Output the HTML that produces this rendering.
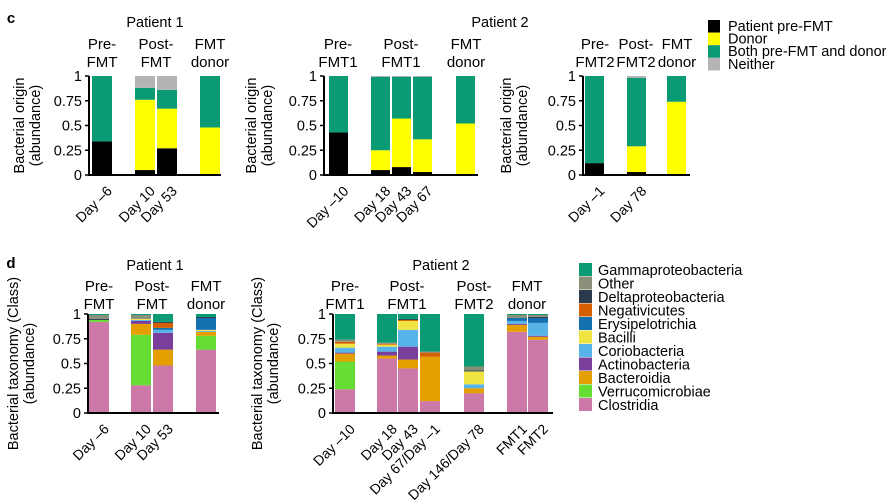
<!DOCTYPE html>
<html><head><meta charset="utf-8"><style>
body{margin:0;background:#fff;}
svg{display:block;font-family:"Liberation Sans",Arial,sans-serif;}
</style></head><body>
<svg id="fig" width="886" height="502" viewBox="0 0 886 502"></svg>
<script>
// ---- Panel c data (bottom to top: patient, donor, both, neither) ----
const cCats1 = ["Day \u20136","Day 10","Day 53",""];
const cPatient1 = [0.34,0.05,0.27,0.00];
const cDonor1 = [0.00,0.71,0.40,0.48];
const cBoth1 = [0.66,0.12,0.19,0.52];
const cNeither1 = [0.00,0.12,0.14,0.00];
const cCats2 = ["Day \u201310","Day 18","Day 43","Day 67",""];
const cPatient2 = [0.43,0.05,0.08,0.03,0.00];
const cDonor2 = [0.00,0.20,0.49,0.33,0.52];
const cBoth2 = [0.57,0.74,0.42,0.63,0.48];
const cNeither2 = [0.00,0.01,0.01,0.01,0.00];
const cCats3 = ["Day \u20131","Day 78",""];
const cPatient3 = [0.12,0.03,0.00];
const cDonor3 = [0.00,0.26,0.74];
const cBoth3 = [0.88,0.69,0.26];
const cNeither3 = [0.00,0.02,0.00];
const yTicks = [0,0.25,0.5,0.75,1];
const yTickLabels = ["0","0.25","0.5","0.75","1"];

// ---- Panel d data (bottom to top) ----
const dClasses = ["Clostridia","Verrucomicrobiae","Bacteroidia","Actinobacteria","Coriobacteria","Bacilli","Erysipelotrichia","Negativicutes","Deltaproteobacteria","Other","Gammaproteobacteria"];
const dCats1 = ["Day \u20136","Day 10","Day 53",""];
const dClost1 = [0.92,0.28,0.48,0.64];
const dVerr1 = [0.02,0.51,0.00,0.14];
const dBact1 = [0.00,0.11,0.16,0.04];
const dActi1 = [0.00,0.03,0.17,0.00];
const dCorio1 = [0.00,0.01,0.03,0.01];
const dBaci1 = [0.00,0.01,0.00,0.01];
const dErys1 = [0.00,0.00,0.02,0.12];
const dNeg1 = [0.00,0.00,0.05,0.00];
const dDelta1 = [0.01,0.00,0.01,0.01];
const dOther1 = [0.04,0.04,0.00,0.00];
const dGamma1 = [0.01,0.01,0.08,0.03];
const dCats2 = ["Day \u201310","Day 18","Day 43","Day 67/Day \u20131","Day 146/Day 78","FMT1","FMT2"];
const dClost2 = [0.24,0.55,0.45,0.12,0.20,0.82,0.74];
const dVerr2 = [0.28,0.00,0.00,0.00,0.00,0.00,0.00];
const dBact2 = [0.08,0.03,0.09,0.45,0.05,0.07,0.03];
const dActi2 = [0.01,0.04,0.13,0.00,0.00,0.01,0.01];
const dCorio2 = [0.05,0.05,0.17,0.00,0.04,0.03,0.13];
const dBaci2 = [0.04,0.02,0.09,0.00,0.13,0.00,0.00];
const dErys2 = [0.00,0.00,0.00,0.00,0.00,0.03,0.05];
const dNeg2 = [0.02,0.01,0.01,0.04,0.00,0.00,0.00];
const dDelta2 = [0.00,0.00,0.01,0.00,0.01,0.00,0.01];
const dOther2 = [0.02,0.01,0.00,0.01,0.04,0.03,0.02];
const dGamma2 = [0.26,0.29,0.05,0.38,0.53,0.01,0.01];

const cColors = ["#000000","#ffff00","#0a9a74","#b4b4b4"];
const cLegend = ["Patient pre-FMT","Donor","Both pre-FMT and donor","Neither"];
const dColors = ["#cc79a7","#66dd33","#e69f00","#7a3f9a","#56b4e9","#f0e442","#1570b0","#d55e00","#2b3a4c","#8a8f7a","#0a9a74"];

const NS="http://www.w3.org/2000/svg";
const svg=document.getElementById('fig');
function mk(tag,attrs,parent){const e=document.createElementNS(NS,tag);for(const k in attrs)e.setAttribute(k,attrs[k]);(parent||svg).appendChild(e);return e;}
function txt(x,y,s,size,anchor,parent,extra){const t=mk('text',Object.assign({x:x,y:y,'font-size':size,'text-anchor':anchor||'middle',fill:'#000'},extra||{}),parent);t.textContent=s;return t;}

function panel(name,axX,axEnd,yTop,yBot,barXs,bw,cats,series,colors,ylab1,ylab2,ylx){
  const g=mk('g',{});
  
  
  const ys=v=>yBot-(yBot-yTop)*v;
  cats.forEach((c,i)=>{
    let acc=0;
    series.forEach((s,k)=>{
      const v=s[i]; if(v<=0){return;}
      const r=mk('rect',{x:barXs[i],y:ys(acc+v),width:bw,height:ys(acc)-ys(acc+v),fill:colors[k]},g);
      
      
      acc+=v;
    });
    if(c){
      const cx=barXs[i]+bw/2+4, cy=yBot+10;
      const t=txt(cx,cy,c,14,'end',g,{transform:'rotate(-45 '+cx+' '+cy+')',dy:'0.7em'});
      
      
    }
  });
  mk('line',{x1:axX,y1:yTop,x2:axX,y2:yBot+1,stroke:'#000','stroke-width':2},g);
  mk('line',{x1:axX-1,y1:yBot,x2:axEnd,y2:yBot,stroke:'#000','stroke-width':2},g);
  yTicks.forEach((v,i)=>{
    mk('line',{x1:axX-4,y1:ys(v),x2:axX,y2:ys(v),stroke:'#000','stroke-width':1.5},g);
    const t=txt(axX-7,ys(v)+5,yTickLabels[i],14.5,'end',g);
    
    
  });
  const cy=(yTop+yBot)/2;
  const a=txt(ylx,cy,ylab1,14.5,'middle',g,{transform:'rotate(-90 '+ylx+' '+cy+')'});
  
  
  const b=txt(ylx+16,cy,ylab2,14.5,'middle',g,{transform:'rotate(-90 '+(ylx+16)+' '+cy+')'});
  
  
}

panel('chart-c-patient1',89,221,76,175,[92,135,157,200],20,cCats1,[cPatient1,cDonor1,cBoth1,cNeither1],cColors,'Bacterial origin','(abundance)',24);
panel('chart-c-patient2',324,478,76,175,[329,371,392,413,456],19,cCats2,[cPatient2,cDonor2,cBoth2,cNeither2],cColors,'Bacterial origin','(abundance)',256);
panel('chart-c-patient2-fmt2',583,690,76,175,[585,627,667],19,cCats3,[cPatient3,cDonor3,cBoth3,cNeither3],cColors,'Bacterial origin','(abundance)',511);
panel('chart-d-patient1',88,219,314,413,[89,131,153,196],20,dCats1,[dClost1,dVerr1,dBact1,dActi1,dCorio1,dBaci1,dErys1,dNeg1,dDelta1,dOther1,dGamma1],dColors,'Bacterial taxonomy (Class)','(abundance)',18);
panel('chart-d-patient2',333,553,314,413,[335,377,398,420,464,507,528],20,dCats2,[dClost2,dVerr2,dBact2,dActi2,dCorio2,dBaci2,dErys2,dNeg2,dDelta2,dOther2,dGamma2],dColors,'Bacterial taxonomy (Class)','(abundance)',262);

function lab(x,y,s,size,name,w){const t=txt(x,y,s,size,'middle',null,w?{'font-weight':'bold'}:{});}
lab(11,23,'c',15,'panel-label-c',1);
lab(11,268,'d',15,'panel-label-d',1);
lab(155,27,'Patient 1',14.5,'patient1-title');
lab(500,27,'Patient 2',14.5,'patient2-title');
lab(155,270,'Patient 1',14.5,'patient1-title-d');
lab(441,270,'Patient 2',14.5,'patient2-title-d');
const heads=[[102,'Pre-','FMT',49],[156,'Post-','FMT',49],[210,'FMT','donor',49],
 [338,'Pre-','FMT1',49],[401,'Post-','FMT1',49],[466,'FMT','donor',49],
 [595,'Pre-','FMT2',49],[636,'Post-','FMT2',49],[677,'FMT','donor',49],
 [99,'Pre-','FMT',291],[152,'Post-','FMT',291],[206,'FMT','donor',291],
 [345,'Pre-','FMT1',291],[407,'Post-','FMT1',291],[474,'Post-','FMT2',291],[527,'FMT','donor',291]];
heads.forEach(h=>{lab(h[0],h[3],h[1],15,'group-header');lab(h[0],h[3]+18,h[2],15,'group-header');});

cLegend.forEach((s,i)=>{
  const y=20+i*12.6;
  const r=mk('rect',{x:708,y:y,width:12,height:12.6,fill:cColors[i]});
  
  
  const t=txt(728,y+11,s,14.5,'start');
  
  
});
for(let i=0;i<dClasses.length;i++){
  const k=dClasses.length-1-i;
  const y=263+i*13.5;
  const r=mk('rect',{x:579,y:y,width:13,height:13,fill:dColors[k]});
  
  
  const t=txt(598,y+12,dClasses[k],14.5,'start');
  
  
}
</script>
</body></html>
